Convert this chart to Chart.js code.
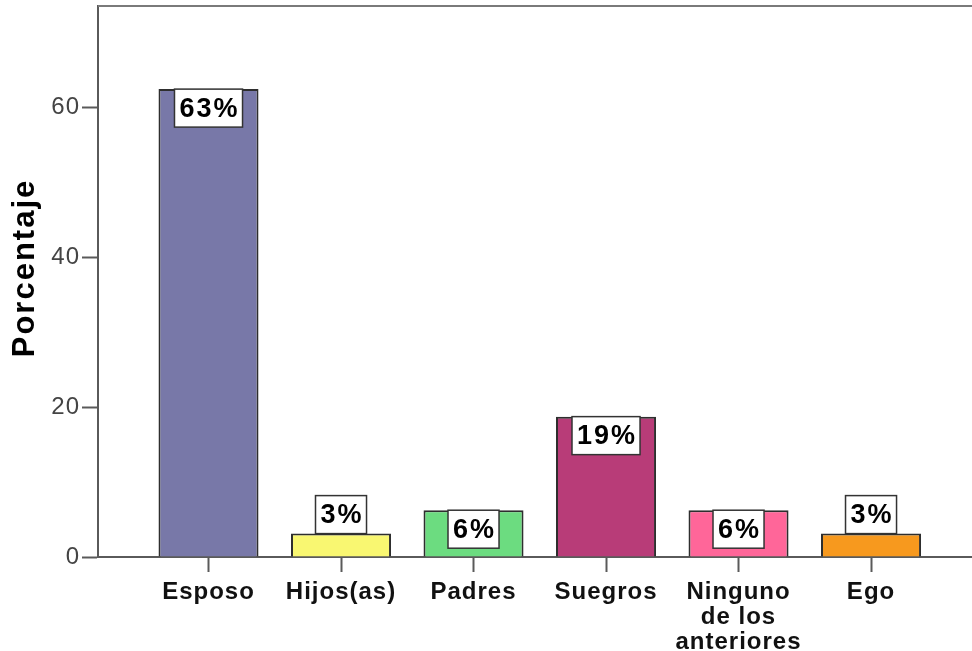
<!DOCTYPE html>
<html>
<head>
<meta charset="utf-8">
<script src="https://cdn.jsdelivr.net/npm/chart.js@4.4.0/dist/chart.umd.min.js"></script>
<style>
  html, body { margin: 0; padding: 0; background: #fff; }
  #contenedor { width: 972px; height: 651px; }
</style>
</head>
<body>
<div id="contenedor"><canvas id="grafico"></canvas></div>
<script>
// Datos
const categorias = ['Esposo', 'Hijos(as)', 'Padres', 'Suegros', 'Ninguno de los anteriores', 'Ego'];
const etiquetasEje = [['Esposo'], ['Hijos(as)'], ['Padres'], ['Suegros'], ['Ninguno', 'de los', 'anteriores'], ['Ego']];
const porcentajes = [62.5, 3.125, 6.25, 18.75, 6.25, 3.125];
const colores = ['#7878a8', '#f9f771', '#6cdc80', '#b83c78', '#ff6699', '#f7991e'];
const marcasY = [0, 20, 40, 60];
const tituloY = 'Porcentaje';

const fuente = '"Liberation Sans", Arial, sans-serif';

// Espaciado de letras para imitar el texto ancho del original
const espaciado = {
   id: 'espaciado',
   beforeLayout(chart) { chart.ctx.letterSpacing = '1px'; },
   beforeDraw(chart) { chart.ctx.letterSpacing = '1px'; }
};

// Linea superior del marco y titulo del eje Y
const marco = {
   id: 'marco',
   afterDraw(chart) {
      const ctx = chart.ctx;
      const area = chart.chartArea;
      ctx.save();
      ctx.strokeStyle = '#7a7a7a';
      ctx.lineWidth = 2;
      ctx.beginPath();
      ctx.moveTo(area.left, area.top);
      ctx.lineTo(area.right, area.top);
      ctx.stroke();

      ctx.letterSpacing = '2px';
      ctx.font = 'bold 31px ' + fuente;
      ctx.fillStyle = '#000';
      ctx.textAlign = 'center';
      ctx.textBaseline = 'alphabetic';
      ctx.translate(34, 268);
      ctx.rotate(-Math.PI / 2);
      ctx.fillText(tituloY, 0, 0);
      ctx.restore();
   }
};

// Etiquetas de porcentaje en cajas blancas
const etiquetasBarra = {
   id: 'etiquetasBarra',
   afterDatasetsDraw(chart) {
      const ctx = chart.ctx;
      const meta = chart.getDatasetMeta(0);
      ctx.save();
      ctx.letterSpacing = '2px';
      ctx.font = 'bold 27px ' + fuente;
      meta.data.forEach((barra, i) => {
         const texto = Math.round(porcentajes[i]) + '%';
         const ancho = ctx.measureText(texto).width + 8;
         const alto = 38;
         const altoBarra = barra.base - barra.y;
         const top = altoBarra >= alto ? barra.y : barra.y - alto;
         const x0 = barra.x - ancho / 2;
         ctx.fillStyle = '#fff';
         ctx.fillRect(x0, top, ancho, alto);
         ctx.strokeStyle = '#333';
         ctx.lineWidth = 1.5;
         ctx.strokeRect(x0, top, ancho, alto);
         ctx.fillStyle = '#000';
         ctx.textAlign = 'center';
         ctx.textBaseline = 'middle';
         ctx.fillText(texto, barra.x + 1, top + alto / 2 + 1);
      });
      ctx.restore();
   }
};

const ctx = document.querySelector('#grafico').getContext('2d');

new Chart(ctx, {
   type: 'bar',
   data: {
      datasets: [{
         data: porcentajes.map((v, i) => ({ x: i, y: v })),
         backgroundColor: colores,
         borderColor: '#2e2e2e',
         borderWidth: 2,
         barPercentage: 0.755,
         categoryPercentage: 1
      }]
   },
   options: {
      responsive: true,
      maintainAspectRatio: false,
      animation: false,
      layout: { padding: { top: 6, right: 0, bottom: 0, left: 0 } },
      plugins: {
         legend: { display: false },
         tooltip: { enabled: false }
      },
      scales: {
         x: {
            type: 'linear',
            offset: false,
            min: -0.834,
            max: 5.762,
            afterBuildTicks: s => { s.ticks = categorias.map((c, i) => ({ value: i })); },
            afterFit: s => { s.height = 94; s.paddingLeft = 0; s.paddingRight = 0; },
            border: { color: '#5a5a5a', width: 2 },
            grid: { offset: false, drawOnChartArea: false, tickLength: 15, tickColor: '#5a5a5a', tickWidth: 2 },
            ticks: {
               callback: v => etiquetasEje[v],
               color: '#111',
               font: { family: fuente, size: 24, weight: 'bold', lineHeight: 1.04 },
               maxRotation: 0,
               autoSkip: false,
               padding: 8
            }
         },
         y: {
            min: 0,
            max: 73.6,
            afterBuildTicks: s => { s.ticks = marcasY.map(v => ({ value: v })); },
            afterFit: s => { s.width = 98; s.paddingTop = 0; s.paddingBottom = 0; },
            border: { color: '#5a5a5a', width: 2 },
            grid: { drawOnChartArea: false, tickLength: 16, tickColor: '#5a5a5a', tickWidth: 2 },
            ticks: {
               color: '#444',
               font: { family: fuente, size: 24 },
               padding: 2
            }
         }
      }
   },
   plugins: [espaciado, etiquetasBarra, marco]
});
</script>
</body>
</html>
